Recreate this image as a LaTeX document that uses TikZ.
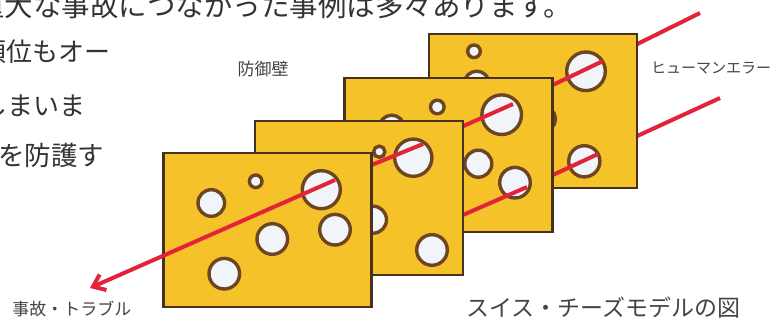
\documentclass[tikz,border=0pt]{standalone}
\usepackage{fontspec}
\newfontfamily\jp{Noto Sans CJK JP}
\usetikzlibrary{arrows.meta}
\definecolor{cheese}{HTML}{F5C22A}
\definecolor{cardedge}{HTML}{46321E}
\definecolor{holeedge}{HTML}{6E4521}
\definecolor{holefill}{HTML}{F1F4F9}
\definecolor{rayred}{HTML}{E2233A}
\definecolor{inkgray}{HTML}{333333}
\definecolor{labelgray}{HTML}{444444}
\begin{document}
\begin{tikzpicture}[x=1pt,y=-1pt,
  card/.style={draw=cardedge, line width=2.2pt, fill=cheese, rectangle,
    minimum width=208pt, minimum height=154pt, inner sep=0pt},
  hole/.style={draw=holeedge, line width=3.4pt, fill=holefill},
  ray/.style={draw=rayred, line width=4pt},
  body/.style={inner sep=0pt, anchor=base west, text=inkgray},
  tag/.style={inner sep=0pt, text=labelgray}]
\useasboundingbox (0,0) rectangle (784,320);
\clip (0,0) rectangle (784,320);
\fill[white] (0,0) rectangle (784,320);

% running text
\node[body] (lead) at (-24,17) {\jp\fontsize{28.5}{28.5}\selectfont 重大な事故につながった事例は多々あります。};
\node[body] (rowa) at (-20,62) {\jp\fontsize{26}{26}\selectfont 順位もオー};
\node[body] (rowb) at (-19,116) {\jp\fontsize{26}{26}\selectfont しまいま};
\node[body] (rowc) at (-2,166) {\jp\fontsize{26.5}{26.5}\selectfont を防護す};

% points where the rays meet the holes
\coordinate (u0) at (700,13);
\coordinate (u4) at (603,61);
\coordinate (u3) at (513,104);
\coordinate (u2) at (423,144);
\coordinate (u1) at (335,180);
\coordinate (tip) at (90,288);
\coordinate (l0) at (720,98);
\coordinate (l4) at (598,154);
\coordinate (l3) at (527,187);
\coordinate (lend) at (440,225);

% rays arriving from behind the last wall
\draw[ray] (u0) -- (u4);
\draw[ray] (l0) -- (l4);

% wall 4
\node[card] (w4) at (533,111) {};
\draw[hole] (474,51.3) circle[radius=6.3];
\draw[hole] (476.7,83.7) circle[radius=12.5];
\draw[hole] (586,71.3) circle[radius=19.3];
\draw[hole] (543,119) circle[radius=12.5];
\draw[hole] (584.3,161.3) circle[radius=15.6];
\draw[ray] (u4) -- (u3);
\draw[ray] (l4) -- (l3);

% wall 3
\node[card] (w3) at (448.5,155) {};
\draw[hole] (437.3,107) circle[radius=6.8];
\draw[hole] (391.7,127.7) circle[radius=12.5];
\draw[hole] (501.7,114.7) circle[radius=19.8];
\draw[hole] (478.3,163.7) circle[radius=13.5];
\draw[hole] (515,182.7) circle[radius=15.3];
\draw[ray] (u3) -- (u2);
\draw[ray] (l3) -- (lend);

% wall 2
\node[card] (w2) at (359,198) {};
\draw[hole] (379.3,151.7) circle[radius=5.6];
\draw[hole] (413.3,157.7) circle[radius=18.6];
\draw[hole] (373,219.7) circle[radius=13.5];
\draw[hole] (432,250) circle[radius=15.3];
\draw[ray] (u2) -- (u1);

% wall 1
\node[card] (w1) at (267.5,230) {};
\draw[hole] (255.7,181.3) circle[radius=6.3];
\draw[hole] (211.3,203) circle[radius=13.3];
\draw[hole] (321.3,189.7) circle[radius=19];
\draw[hole] (335,229.7) circle[radius=15.3];
\draw[hole] (272.3,239) circle[radius=15.3];
\draw[hole] (224.3,273.7) circle[radius=15.3];
\draw[ray, -{Straight Barb[length=11pt, width=17pt, line width=4pt]}] (u1) -- (tip);

% labels
\node[tag] (walltag) at (263,69) {\jp\fontsize{17}{17}\selectfont 防御壁};
\node[tag] (errtag) at (711,68) {\jp\fontsize{15}{15}\selectfont ヒューマンエラー};
\node[tag] (acctag) at (72,309) {\jp\fontsize{17}{17}\selectfont 事故・トラブル};
\node[tag] (title) at (603.5,308) {\jp\fontsize{23}{23}\selectfont スイス・チーズモデルの図};
\end{tikzpicture}
\end{document}
